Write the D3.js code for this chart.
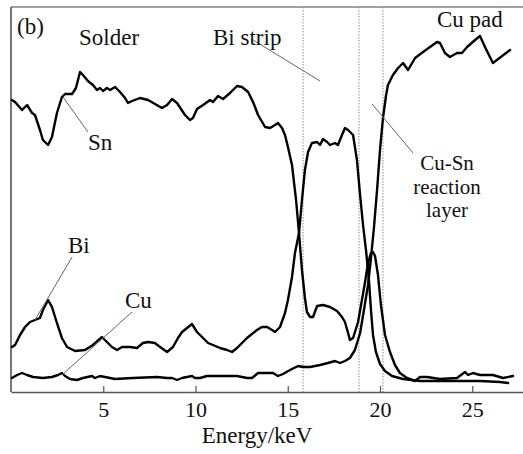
<!DOCTYPE html>
<html>
<head>
<meta charset="utf-8">
<script src="https://cdn.jsdelivr.net/npm/d3@7/dist/d3.min.js"></script>
<style>
  html, body { margin: 0; padding: 0; background: #fff; }
  svg { display: block; }
  text { font-family: "Liberation Serif", "Times New Roman", serif; fill: #111; }
</style>
</head>
<body>
<svg id="chart" width="523" height="454"></svg>
<script>
// EDS line scan across the solder / Bi strip / Cu-Sn layer / Cu pad joint.
// Energy axis in keV, intensities in arbitrary units.

const tickValues = [5, 10, 15, 20, 25];
const boundaries = [15.83, 18.86, 20.16];

const snEnergy = [0.05,0.22,0.60,0.87,1.14,1.30,1.57,1.73,2.01,2.22,2.49,2.76,2.93,3.31,3.52,3.74,3.90,4.17,4.44,4.66,4.82,4.99,5.20,5.37,5.64,5.91,6.18,6.34,6.56,6.99,7.43,8.18,8.46,8.73,9.00,9.43,9.70,9.86,10.08,10.41,10.79,10.95,11.22,11.49,11.87,12.25,12.52,12.85,13.12,13.39,13.77,14.04,14.31,14.47,14.69,14.85,15.01,15.23,15.45,15.61,15.77,15.93,16.04,16.21,16.37,16.59,16.91,17.29,17.67,17.94,18.10,18.27,18.37,18.54,18.81,19.02,19.19,19.35,19.51,19.62,19.73,19.89,20.05,20.27,20.54,20.81,21.08,21.46,21.90,22.17,22.55,23.25,24.17,24.61,24.77,25.04,25.42,26.12,26.67,27.21];
const snCounts = [292,290,282,287,279,277,262,252,247,255,279,295,298,298,304,320,317,311,307,302,304,301,304,302,305,300,294,289,291,294,292,284,287,293,289,277,272,274,283,287,292,290,296,293,299,306,305,300,290,277,265,264,267,269,264,257,245,227,192,159,122,94,80,75,75,86,87,85,81,75,70,59,52,54,70,92,110,129,139,140,136,117,87,57,40,27,19,14,11,15,15,13,14,20,17,19,17,17,14,16];

const biEnergy = [0.05,0.22,0.49,0.76,1.03,1.30,1.57,1.73,2.01,2.22,2.49,2.76,3.04,3.47,4.01,4.44,4.93,5.20,5.47,5.75,6.02,6.45,6.83,7.15,7.43,7.80,8.08,8.46,8.78,9.05,9.27,9.54,9.81,10.08,10.41,10.68,10.95,11.33,11.71,11.98,12.25,12.79,13.33,13.60,13.88,14.15,14.31,14.58,14.85,15.01,15.23,15.39,15.61,15.77,15.93,16.10,16.31,16.59,16.75,16.91,17.13,17.29,17.56,17.72,17.94,18.10,18.27,18.54,18.64,18.75,18.92,19.08,19.24,19.40,19.51,19.62,19.78,20.00,20.27,20.65,21.25,22.17,23.79,25.42,26.50,26.94];
const biCounts = [45,47,57,65,70,72,74,82,92,85,69,54,45,41,42,47,55,50,45,42,45,45,44,49,50,49,45,40,45,54,60,64,68,60,54,49,47,44,42,40,44,54,62,65,65,62,60,65,79,92,115,139,159,192,222,240,249,250,247,253,250,247,249,247,257,264,262,257,245,232,197,167,142,112,82,57,40,28,21,16,13,11,11,11,10,9];

const cuEnergy = [0.05,0.33,0.60,0.87,1.19,1.73,2.22,2.55,2.76,2.93,3.20,3.58,3.90,4.39,4.55,4.82,5.09,5.64,6.61,7.91,8.46,8.73,9.00,9.27,9.81,9.97,10.24,10.62,12.25,12.79,13.06,13.39,13.88,14.20,14.47,14.74,15.12,15.56,15.83,16.21,16.75,17.18,17.56,17.83,18.10,18.37,18.64,18.92,19.13,19.35,19.51,19.67,19.84,20.00,20.16,20.33,20.43,20.70,20.98,21.25,21.52,21.90,22.33,22.71,23.09,23.25,23.52,23.79,24.17,24.44,24.72,25.15,25.42,25.69,26.12,27.05];
const cuCounts = [14,17,19,17,15,14,15,17,19,16,13,12,14,16,14,16,15,13,14,15,14,14,12,14,16,14,14,16,16,14,14,19,19,19,16,18,22,26,25,25,27,29,31,29,31,34,42,59,82,107,134,164,202,242,274,297,307,317,324,329,322,334,340,345,350,349,339,335,339,339,345,352,356,345,329,342];

const seriesNames = ["Sn", "Bi", "Cu"];
const seriesEnergy = [snEnergy, biEnergy, cuEnergy];
const seriesCounts = [snCounts, biCounts, cuCounts];

const width = 523, height = 454;
const margin = { left: 11, right: 0, top: 7, bottom: 62 };
const serif = "'Liberation Serif', 'Times New Roman', serif";

const x = d3.scaleLinear().domain([0, 27.75]).range([margin.left, width - margin.right]);
const y = d3.scaleLinear().domain([0, 385]).range([height - margin.bottom, margin.top]);

const svg = d3.select("#chart");

// frame: top rule and left axis
svg.append("line")
  .attr("x1", x(0)).attr("x2", x(27.75))
  .attr("y1", y(385)).attr("y2", y(385))
  .attr("stroke", "#808080").attr("stroke-width", 1.3);
svg.append("line")
  .attr("x1", x(0)).attr("x2", x(0))
  .attr("y1", y(385)).attr("y2", y(0))
  .attr("stroke", "#555").attr("stroke-width", 1.6);

// layer boundaries
svg.append("g").selectAll("line").data(boundaries).join("line")
  .attr("x1", d => x(d)).attr("x2", d => x(d))
  .attr("y1", y(385)).attr("y2", y(0))
  .attr("stroke", "#888").attr("stroke-width", 1)
  .attr("stroke-dasharray", "1.5,1.5");

// energy axis with inward ticks
const xAxis = d3.axisBottom(x).tickValues(tickValues).tickSizeInner(-6).tickSizeOuter(0).tickFormat(d3.format("d"));
const gx = svg.append("g").attr("transform", `translate(0,${y(0)})`).call(xAxis)
  .attr("font-family", serif);
gx.select(".domain").attr("stroke", "#555").attr("stroke-width", 1.6);
gx.selectAll(".tick line").attr("stroke", "#555").attr("stroke-width", 1.2);
gx.selectAll(".tick text")
  .attr("y", 25).attr("dy", null)
  .style("font-family", serif)
  .style("font-size", "22px").attr("fill", "#111");

svg.append("text")
  .attr("x", 257).attr("y", 443)
  .attr("text-anchor", "middle")
  .style("font-family", serif)
  .style("font-size", "23px")
  .text("Energy/keV");

// element traces
const line = d3.line().x(d => x(d[0])).y(d => y(d[1]));
seriesNames.forEach((name, i) => {
  const pts = seriesEnergy[i].map((e, j) => [e, seriesCounts[i][j]]);
  svg.append("path")
    .datum(pts)
    .attr("class", "trace-" + name)
    .attr("fill", "none")
    .attr("stroke", "#000")
    .attr("stroke-width", 2.4)
    .attr("stroke-linejoin", "round")
    .attr("stroke-linecap", "round")
    .attr("d", line);
});

// leader lines (energy, counts pairs)
const leaders = [
  [[2.82, 295], [4.17, 260]],
  [[3.31, 135], [1.30, 72]],
  [[6.56, 80], [2.76, 17]],
  [[13.12, 352], [16.75, 311]],
  [[19.57, 288], [21.79, 239]]
];
svg.append("g").selectAll("line").data(leaders).join("line")
  .attr("x1", d => x(d[0][0])).attr("y1", d => y(d[0][1]))
  .attr("x2", d => x(d[1][0])).attr("y2", d => y(d[1][1]))
  .attr("stroke", "#666").attr("stroke-width", 1);

// labels
const labels = [
  { t: "(b)", e: 0.33, c: 358, a: "start", s: 23 },
  { t: "Solder", e: 3.69, c: 347, a: "start", s: 23 },
  { t: "Bi strip", e: 10.95, c: 347, a: "start", s: 23 },
  { t: "Cu pad", e: 23.09, c: 365, a: "start", s: 23 },
  { t: "Sn", e: 4.17, c: 242, a: "start", s: 23 },
  { t: "Bi", e: 3.09, c: 139, a: "start", s: 23 },
  { t: "Cu", e: 6.18, c: 84, a: "start", s: 23 },
  { t: "Cu-Sn", e: 23.63, c: 222, a: "middle", s: 21 },
  { t: "reaction", e: 23.63, c: 198.5, a: "middle", s: 21 },
  { t: "layer", e: 23.63, c: 175, a: "middle", s: 21 }
];
svg.append("g").selectAll("text").data(labels).join("text")
  .attr("x", d => x(d.e)).attr("y", d => y(d.c))
  .attr("text-anchor", d => d.a)
  .style("font-family", serif)
  .style("font-size", d => d.s + "px")
  .text(d => d.t);
</script>
</body>
</html>
